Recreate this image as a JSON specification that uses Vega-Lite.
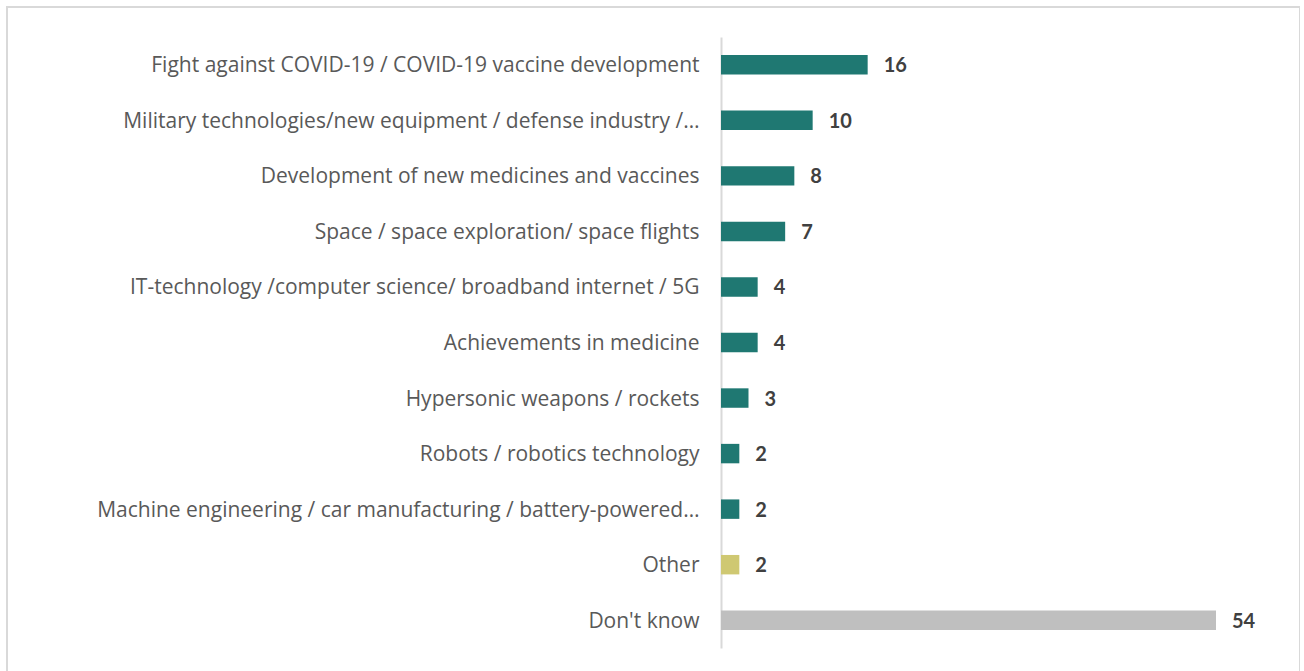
{
  "$schema": "https://vega.github.io/schema/vega-lite/v6.json",
  "autosize": {"type": "none"},
  "padding": {"left": 7, "top": 7, "right": 0, "bottom": 0},
  "width": 1293,
  "height": 690,
  "background": "#ffffff",
  "config": {
    "view": {"stroke": "#d9d9d9", "strokeWidth": 2},
    "font": "Open Sans"
  },
  "data": {
    "values": [
      {"label": "Fight against COVID-19 / COVID-19 vaccine development", "value": 16, "group": "topic"},
      {"label": "Military technologies/new equipment / defense industry /…", "value": 10, "group": "topic"},
      {"label": "Development of new medicines and vaccines", "value": 8, "group": "topic"},
      {"label": "Space / space exploration/ space flights", "value": 7, "group": "topic"},
      {"label": "IT-technology /computer science/ broadband internet / 5G", "value": 4, "group": "topic"},
      {"label": "Achievements in medicine", "value": 4, "group": "topic"},
      {"label": "Hypersonic weapons / rockets", "value": 3, "group": "topic"},
      {"label": "Robots / robotics technology", "value": 2, "group": "topic"},
      {"label": "Machine engineering / car manufacturing / battery-powered…", "value": 2, "group": "topic"},
      {"label": "Other", "value": 2, "group": "other"},
      {"label": "Don't know", "value": 54, "group": "dontknow"}
    ]
  },
  "encoding": {
    "y": {
      "field": "label",
      "type": "nominal",
      "sort": null,
      "scale": {"range": [30, 641], "paddingInner": 0.65, "paddingOuter": 0.325},
      "axis": {
        "title": null,
        "offset": -714,
        "ticks": false,
        "domainColor": "#d9d9d9",
        "domainWidth": 2,
        "labelPadding": 22,
        "labelOffset": 1.5,
        "labelFont": "Open Sans",
        "labelFontSize": 21,
        "labelColor": "#595959",
        "labelLimit": 700
      }
    },
    "x": {
      "field": "value",
      "type": "quantitative",
      "scale": {"domain": [0, 60], "range": [714, 1264]},
      "axis": null
    }
  },
  "layer": [
    {
      "mark": {"type": "bar"},
      "encoding": {
        "color": {
          "field": "group",
          "type": "nominal",
          "scale": {"domain": ["topic", "other", "dontknow"], "range": ["#1f7872", "#cfc872", "#bfbfbf"]},
          "legend": null
        }
      }
    },
    {
      "mark": {"type": "text", "align": "left", "baseline": "middle", "dx": 16, "dy": 1.5, "fontWeight": "bold", "fontSize": 20, "color": "#404040", "font": "Lato"},
      "encoding": {"text": {"field": "value", "type": "quantitative"}}
    }
  ]
}
